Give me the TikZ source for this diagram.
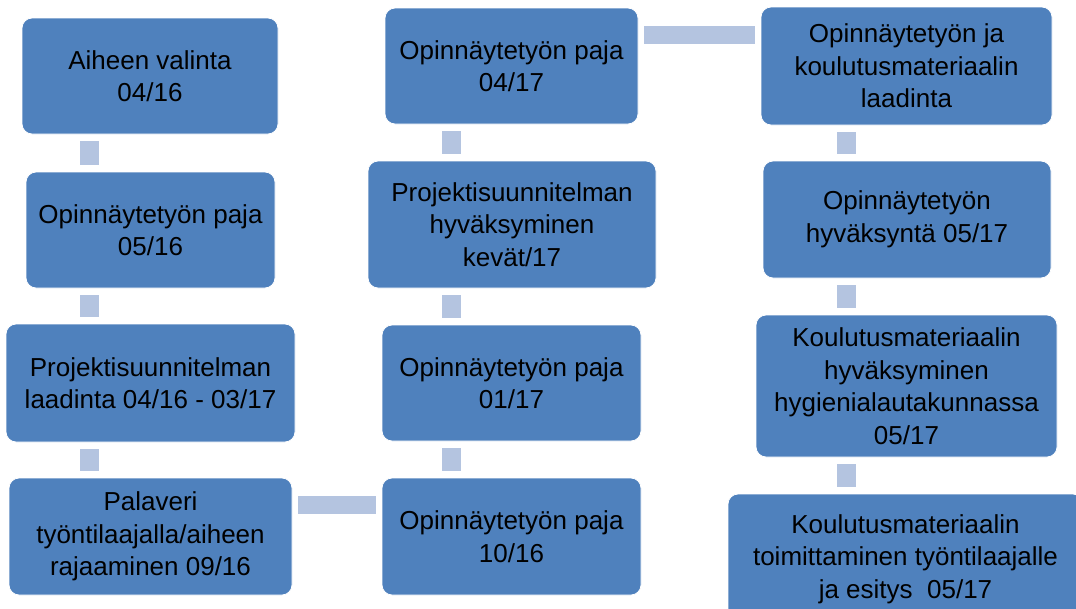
\documentclass[tikz,border=0pt]{standalone}
\usepackage{fontspec}
\setmainfont{Liberation Sans}
\definecolor{boxblue}{RGB}{79,129,189}
\definecolor{connblue}{RGB}{180,196,224}
\tikzset{
  stepbox/.style={rectangle, rounded corners=10pt, fill=boxblue, draw=white, line width=0.8pt,
    inner sep=0pt, align=center, text=black, font=\fontsize{26}{32.5}\selectfont},
  vconn/.style={draw=connblue, line width=19pt, shorten <=7pt, shorten >=7pt},
  hconn/.style={draw=connblue, line width=18pt, shorten <=6pt, shorten >=6pt}
}
\begin{document}
\begin{tikzpicture}[x=1pt,y=-1pt]
\useasboundingbox (0,0) rectangle (1076,608);
\clip (0,0) rectangle (1076,608);
\fill[white] (0,0) rectangle (1076,608);
% column 1
\node[stepbox, minimum width=256pt, minimum height=116pt] (a1) at (150,76) {Aiheen valinta\\04/16};
\node[stepbox, minimum width=249pt, minimum height=116pt] (a2) at (150.5,230) {Opinnäytetyön paja\\05/16};
\node[stepbox, minimum width=289pt, minimum height=118pt] (a3) at (150.5,383) {Projektisuunnitelman\\laadinta 04/16 - 03/17};
\node[stepbox, minimum width=283pt, minimum height=117pt] (a4) at (150.5,536.5) {Palaveri\\työntilaajalla/aiheen\\rajaaminen 09/16};
% column 2
\node[stepbox, minimum width=259pt, minimum height=117pt] (b1) at (511.5,536.5) {Opinnäytetyön paja\\10/16};
\node[stepbox, minimum width=259pt, minimum height=116pt] (b2) at (511.5,383) {Opinnäytetyön paja\\01/17};
\node[stepbox, minimum width=288pt, minimum height=127pt] (b3) at (512,224.5) {Projektisuunnitelman\\hyväksyminen\\kevät/17};
\node[stepbox, minimum width=253pt, minimum height=116pt] (b4) at (511.5,66) {Opinnäytetyön paja\\04/17};
% column 3
\node[stepbox, minimum width=291pt, minimum height=118pt] (c1) at (906.5,66) {Opinnäytetyön ja\\koulutusmateriaalin\\laadinta};
\node[stepbox, minimum width=288pt, minimum height=117pt] (c2) at (907,219.5) {Opinnäytetyön\\hyväksyntä 05/17};
\node[stepbox, minimum width=301pt, minimum height=142pt] (c3) at (906.5,386) {Koulutusmateriaalin\\hyväksyminen\\hygienialautakunnassa\\05/17};
\node[stepbox, minimum width=355pt, minimum height=130pt] (c4) at (905.5,559) {Koulutusmateriaalin\\toimittaminen työntilaajalle\\ja esitys\ \ 05/17};
% connector guide coordinates
\coordinate (k1) at (89.5,0);
\coordinate (k2) at (451.5,0);
\coordinate (k3) at (846,0);
\coordinate (r1) at (0,505);
\coordinate (r2) at (0,35);
% connectors
\draw[vconn] (a1.south -| k1) -- (a2.north -| k1);
\draw[vconn] (a2.south -| k1) -- (a3.north -| k1);
\draw[vconn] (a3.south -| k1) -- (a4.north -| k1);
\draw[hconn] (a4.east |- r1) -- (b1.west |- r1);
\draw[vconn] (b1.north -| k2) -- (b2.south -| k2);
\draw[vconn] (b2.north -| k2) -- (b3.south -| k2);
\draw[vconn] (b3.north -| k2) -- (b4.south -| k2);
\draw[hconn] (b4.east |- r2) -- (c1.west |- r2);
\draw[vconn] (c1.south -| k3) -- (c2.north -| k3);
\draw[vconn] (c2.south -| k3) -- (c3.north -| k3);
\draw[vconn] (c3.south -| k3) -- (c4.north -| k3);
\end{tikzpicture}
\end{document}
